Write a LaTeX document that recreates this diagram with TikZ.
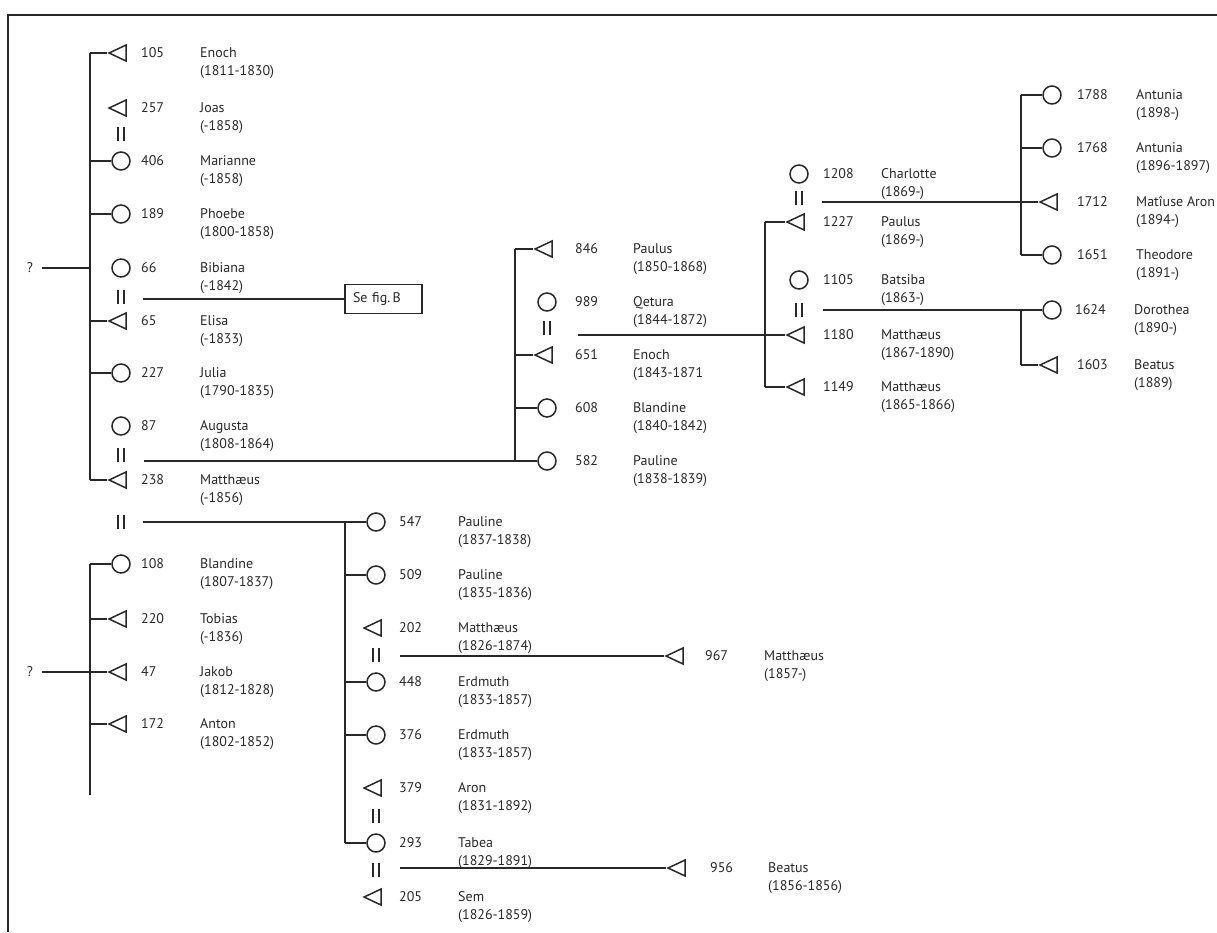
\documentclass[tikz,border=0pt]{standalone}
\usepackage{fontspec}
\setmainfont{PT Sans}
\usetikzlibrary{shapes.geometric}
\definecolor{ink}{RGB}{40,40,40}
\tikzset{
  x=1pt, y=-1pt,
  ln/.style={draw=ink, line width=1.5pt},
  fem/.style={ln, circle, minimum size=18pt, inner sep=0pt},
  mal/.style={ln, isosceles triangle, isosceles triangle stretches, shape border rotate=180,
              minimum width=16pt, minimum height=17pt, inner sep=0pt},
  lbl/.style={text=ink, font=\fontsize{14}{18.5}\selectfont, inner sep=0pt, anchor=west},
}
% #1 id, #2 shape, #3 symbol x, #4 y, #5 number x, #6 name x, #7 number, #8 name, #9 dates
\newcommand\pers[9]{%
  \node[#2] (#1) at (#3,#4) {};
  \node[lbl] (#1n) at (#5,#4) {#7};
  \node[lbl, align=left] (#1t) at (#6,#4+10) {#8\\#9};
}
\newcommand\marr[2]{%
  \draw[ln, line width=1.7pt] (#1-3.3,#2-7) -- (#1-3.3,#2+7) (#1+3.3,#2-7) -- (#1+3.3,#2+7);
}
\begin{document}
\begin{tikzpicture}
\useasboundingbox (0,0) rectangle (1217,932);
% frame
\draw[ln] (8,932) -- (8,15) -- (1217,15);

% ---------- family A ----------
\pers{p105}{mal}{121}{53}{141}{200}{105}{Enoch}{(1811-1830)}
\pers{p257}{mal}{121}{108}{141}{200}{257}{Joas}{(-1858)}
\marr{121}{134}
\pers{p406}{fem}{121}{161}{141}{200}{406}{Marianne}{(-1858)}
\pers{p189}{fem}{121}{214}{141}{200}{189}{Phoebe}{(1800-1858)}
\pers{p66}{fem}{121}{268}{141}{200}{66}{Bibiana}{(-1842)}
\marr{121}{297}
\pers{p65}{mal}{121}{321}{141}{200}{65}{Elisa}{(-1833)}
\pers{p227}{fem}{121}{373}{141}{200}{227}{Julia}{(1790-1835)}
\pers{p87}{fem}{121}{426}{141}{200}{87}{Augusta}{(1808-1864)}
\marr{121}{455}
\pers{p238}{mal}{121}{480}{141}{200}{238}{Matthæus}{(-1856)}
\marr{121}{522}

\node[lbl, anchor=center] (q1) at (30,268) {?};
\coordinate (Atop) at (90,53);
\coordinate (Abot) at (90,480);
\draw[ln] (Atop) -- (Abot);
\draw[ln] ([xshift=9pt]q1.east) -- (q1.east -| Atop);
\foreach \n in {p105,p406,p189,p65,p227,p238}
  \draw[ln] (\n.west -| Atop) -- (\n.west);

% box
\node[lbl, anchor=center, draw=ink, line width=1.3pt, inner xsep=8pt, text width=61pt,
      align=left, minimum height=29pt] (figB) at (383.5,299) {Se fig.\,B};
\coordinate (m66) at (143,299);
\draw[ln] (m66) -- (figB.west);

% ---------- family D ----------
\pers{p108}{fem}{121}{564}{141}{200}{108}{Blandine}{(1807-1837)}
\pers{p220}{mal}{121}{619}{141}{200}{220}{Tobias}{(-1836)}
\pers{p47}{mal}{121}{672}{141}{200}{47}{Jakob}{(1812-1828)}
\pers{p172}{mal}{121}{724}{141}{200}{172}{Anton}{(1802-1852)}
\node[lbl, anchor=center] (q2) at (30,672) {?};
\coordinate (Dtop) at (90,564);
\coordinate (Dbot) at (90,795);
\draw[ln] (Dtop) -- (Dbot);
\draw[ln] ([xshift=9pt]q2.east) -- (q2.east -| Dtop);
\foreach \n in {p108,p220,p47,p172}
  \draw[ln] (\n.west -| Dtop) -- (\n.west);

% ---------- family C ----------
\pers{p547}{fem}{376}{522}{399}{458}{547}{Pauline}{(1837-1838)}
\pers{p509}{fem}{376}{575}{399}{458}{509}{Pauline}{(1835-1836)}
\pers{p202}{mal}{376}{628}{399}{458}{202}{Matthæus}{(1826-1874)}
\marr{376}{655}
\pers{p448}{fem}{376}{682}{399}{458}{448}{Erdmuth}{(1833-1857)}
\pers{p376}{fem}{376}{735}{399}{458}{376}{Erdmuth}{(1833-1857)}
\pers{p379}{mal}{376}{788}{399}{458}{379}{Aron}{(1831-1892)}
\marr{376}{816}
\pers{p293}{fem}{376}{843}{399}{458}{293}{Tabea}{(1829-1891)}
\marr{376}{870}
\pers{p205}{mal}{376}{897}{399}{458}{205}{Sem}{(1826-1859)}
\pers{p967}{mal}{678}{656}{705}{764}{967}{Matthæus}{(1857-)}
\pers{p956}{mal}{680}{868}{710}{768}{956}{Beatus}{(1856-1856)}

\coordinate (m238) at (143,522);
\coordinate (Ctop) at (345,522);
\coordinate (Cbot) at (345,843);
\draw[ln] (m238) -- (p547.west);
\draw[ln] (Ctop) -- (Cbot);
\foreach \n in {p509,p448,p376,p293}
  \draw[ln] (\n.west -| Ctop) -- (\n.west);
\coordinate (m202) at (400,656);
\draw[ln] (m202) -- (p967.west);
\coordinate (m293) at (400,868);
\draw[ln] (m293) -- (p956.west);

% ---------- family B ----------
\pers{p846}{mal}{547}{249}{575}{633}{846}{Paulus}{(1850-1868)}
\pers{p989}{fem}{547}{302}{575}{633}{989}{Qetura}{(1844-1872)}
\marr{547}{328}
\pers{p651}{mal}{547}{355}{575}{633}{651}{Enoch}{(1843-1871}
\pers{p608}{fem}{547}{408}{575}{633}{608}{Blandine}{(1840-1842)}
\pers{p582}{fem}{547}{461}{575}{633}{582}{Pauline}{(1838-1839)}
\coordinate (m87) at (144,461);
\coordinate (Btop) at (515,249);
\coordinate (Bbot) at (515,461);
\draw[ln] (m87) -- (p582.west);
\draw[ln] (Btop) -- (Bbot);
\foreach \n in {p846,p651,p608}
  \draw[ln] (\n.west -| Btop) -- (\n.west);

% ---------- family E ----------
\pers{p1208}{fem}{799}{174}{823}{881}{1208}{Charlotte}{(1869-)}
\marr{799}{198}
\pers{p1227}{mal}{799}{222}{823}{881}{1227}{Paulus}{(1869-)}
\pers{p1105}{fem}{799}{280}{823}{881}{1105}{Batsiba}{(1863-)}
\marr{799}{310}
\pers{p1180}{mal}{799}{335}{823}{881}{1180}{Matthæus}{(1867-1890)}
\pers{p1149}{mal}{799}{387}{823}{881}{1149}{Matthæus}{(1865-1866)}
\coordinate (m989) at (578,335);
\coordinate (Etop) at (765,222);
\coordinate (Ebot) at (765,387);
\draw[ln] (m989) -- (p1180.west);
\draw[ln] (Etop) -- (Ebot);
\foreach \n in {p1227,p1149}
  \draw[ln] (\n.west -| Etop) -- (\n.west);

% ---------- family F ----------
\pers{p1788}{fem}{1052}{95}{1077}{1136}{1788}{Antunia}{(1898-)}
\pers{p1768}{fem}{1052}{148}{1077}{1136}{1768}{Antunia}{(1896-1897)}
\pers{p1712}{mal}{1052}{202}{1077}{1136}{1712}{Matîuse Aron}{(1894-)}
\pers{p1651}{fem}{1052}{255}{1077}{1136}{1651}{Theodore}{(1891-)}
\coordinate (m1208) at (822,202);
\coordinate (Ftop) at (1021,95);
\coordinate (Fbot) at (1021,255);
\draw[ln] (m1208) -- (p1712.west);
\draw[ln] (Ftop) -- (Fbot);
\foreach \n in {p1788,p1768,p1651}
  \draw[ln] (\n.west -| Ftop) -- (\n.west);

% ---------- family G ----------
\pers{p1624}{fem}{1052}{310}{1075}{1134}{1624}{Dorothea}{(1890-)}
\pers{p1603}{mal}{1052}{365}{1077}{1134}{1603}{Beatus}{(1889)}
\coordinate (m1105) at (823,310);
\coordinate (Gtop) at (1021,310);
\coordinate (Gbot) at (1021,365);
\draw[ln] (m1105) -- (p1624.west);
\draw[ln] (Gtop) -- (Gbot);
\draw[ln] (p1603.west -| Gtop) -- (p1603.west);
\end{tikzpicture}
\end{document}
